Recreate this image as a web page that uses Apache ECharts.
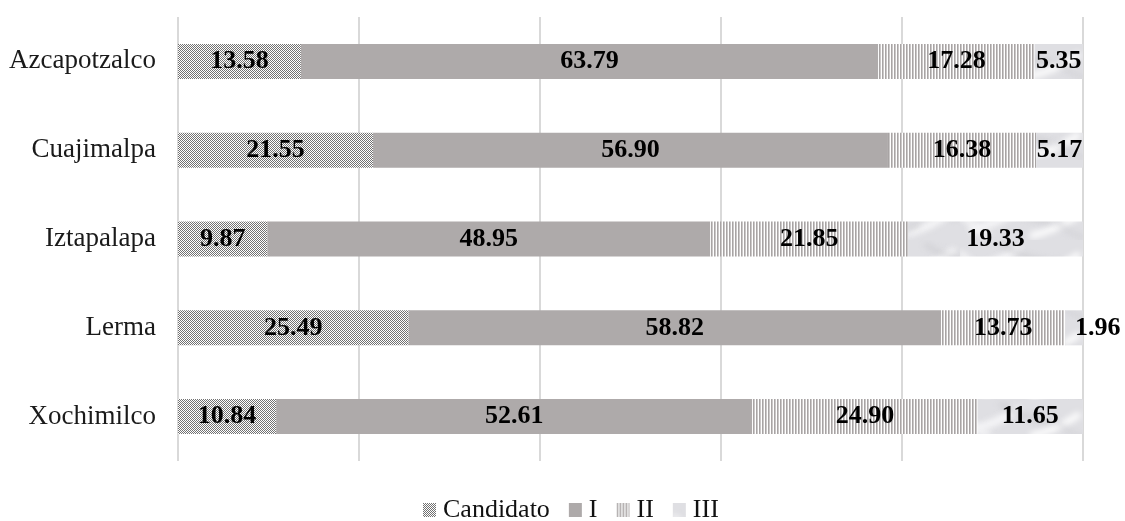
<!DOCTYPE html>
<html>
<head>
<meta charset="utf-8">
<style>
  html, body { margin: 0; padding: 0; background: #ffffff; }
  #chart { width: 1125px; height: 521px; }
</style>
<script src="https://cdn.jsdelivr.net/npm/echarts@6/dist/echarts.min.js"></script>
</head>
<body>
<div id="chart"></div>
<script>
// Percentage shares per municipality, stacked to 100
const categories = ['Azcapotzalco', 'Cuajimalpa', 'Iztapalapa', 'Lerma', 'Xochimilco'];
const seriesNames = ['Candidato', 'I', 'II', 'III'];
const candidato = [13.58, 21.55, 9.87, 25.49, 10.84];
const nivelI = [63.79, 56.90, 48.95, 58.82, 52.61];
const nivelII = [17.28, 16.38, 21.85, 13.73, 24.90];
const nivelIII = [5.35, 5.17, 19.33, 1.96, 11.65];

const FONT = 'Liberation Serif';

// Fill patterns for the four segments
function checkerPattern() {
  const c = document.createElement('canvas');
  c.width = 2; c.height = 2;
  const ctx = c.getContext('2d');
  ctx.fillStyle = '#ffffff';
  ctx.fillRect(0, 0, 2, 2);
  ctx.fillStyle = '#727272';
  ctx.fillRect(0, 0, 1, 1);
  ctx.fillRect(1, 1, 1, 1);
  return c;
}

function stripePattern() {
  const c = document.createElement('canvas');
  c.width = 3; c.height = 6;
  const ctx = c.getContext('2d');
  ctx.fillStyle = '#ffffff';
  ctx.fillRect(0, 0, 3, 6);
  ctx.fillStyle = '#a8a4a4';
  ctx.fillRect(0, 0, 1, 6);
  ctx.fillStyle = 'rgba(168,164,164,0.6)';
  ctx.fillRect(1, 0, 1, 6);
  return c;
}

function marblePattern() {
  const w = 240, h = 40;
  const c = document.createElement('canvas');
  c.width = w; c.height = h;
  const ctx = c.getContext('2d');
  ctx.fillStyle = '#dfdfe3';
  ctx.fillRect(0, 0, w, h);
  ctx.filter = 'blur(3px)';
  const veins = [
    [10, 30, 60, 8, '#f8f8fa', 7],
    [70, 36, 120, 14, '#ffffff', 6],
    [130, 6, 180, 30, '#f4f4f6', 8],
    [185, 34, 235, 10, '#fbfbfc', 6],
    [40, 4, 90, 22, '#c6c6ca', 3],
    [150, 38, 200, 24, '#c4c4c8', 3],
    [0, 12, 30, 36, '#f2f2f4', 7],
    [205, 4, 240, 18, '#cacace', 3],
    [95, 20, 125, 38, '#cfcfd3', 3]
  ];
  veins.forEach(function (v) {
    ctx.strokeStyle = v[4];
    ctx.lineWidth = v[5];
    ctx.beginPath();
    ctx.moveTo(v[0], v[1]);
    ctx.quadraticCurveTo((v[0] + v[2]) / 2, (v[1] + v[3]) / 2 + 6, v[2], v[3]);
    ctx.stroke();
  });
  ctx.filter = 'none';
  return c;
}

const fills = [
  { image: checkerPattern(), repeat: 'repeat' },
  '#aeaaaa',
  { image: stripePattern(), repeat: 'repeat' },
  { image: marblePattern(), repeat: 'repeat' }
];

const seriesData = [candidato, nivelI, nivelII, nivelIII];

const labelStyle = {
  show: true,
  position: 'inside',
  fontFamily: FONT,
  fontWeight: 'bold',
  fontSize: 26,
  color: '#000000',
  formatter: function (p) { return Number(p.value).toFixed(2); }
};

const series = seriesNames.map(function (name, si) {
  return {
    name: name,
    type: 'bar',
    stack: 'total',
    barWidth: 35,
    itemStyle: { color: fills[si] },
    label: labelStyle,
    emphasis: { disabled: true },
    // very thin trailing segments carry their label just past the bar end
    data: seriesData[si].map(function (v) {
      return (si === 3 && v < 3) ? { value: v, label: { position: 'right', distance: -8 } } : v;
    })
  };
});

const chart = echarts.init(document.getElementById('chart'), null, { renderer: 'canvas' });
chart.setOption({
  animation: false,
  backgroundColor: '#ffffff',
  textStyle: { fontFamily: FONT },
  grid: { left: 178, right: 42, top: 17, bottom: 60, containLabel: false },
  legend: {
    data: seriesNames,
    icon: 'rect',
    left: 423,
    top: 497,
    padding: 0,
    itemWidth: 13,
    itemHeight: 14,
    itemGap: 19,
    textStyle: { fontFamily: FONT, fontSize: 26, lineHeight: 26, color: '#111111', padding: [0, 0, 0, 2] }
  },
  xAxis: {
    type: 'value',
    min: 0,
    max: 100,
    interval: 20,
    axisLabel: { show: false },
    axisLine: { show: false },
    axisTick: { show: false },
    splitLine: { show: true, lineStyle: { color: '#d9d9d9', width: 2 } }
  },
  yAxis: {
    type: 'category',
    data: categories,
    inverse: true,
    axisLine: { show: false },
    axisTick: { show: false },
    axisLabel: { margin: 22, fontFamily: FONT, fontSize: 27, color: '#1a1a1a' }
  },
  series: series
});
</script>
</body>
</html>
